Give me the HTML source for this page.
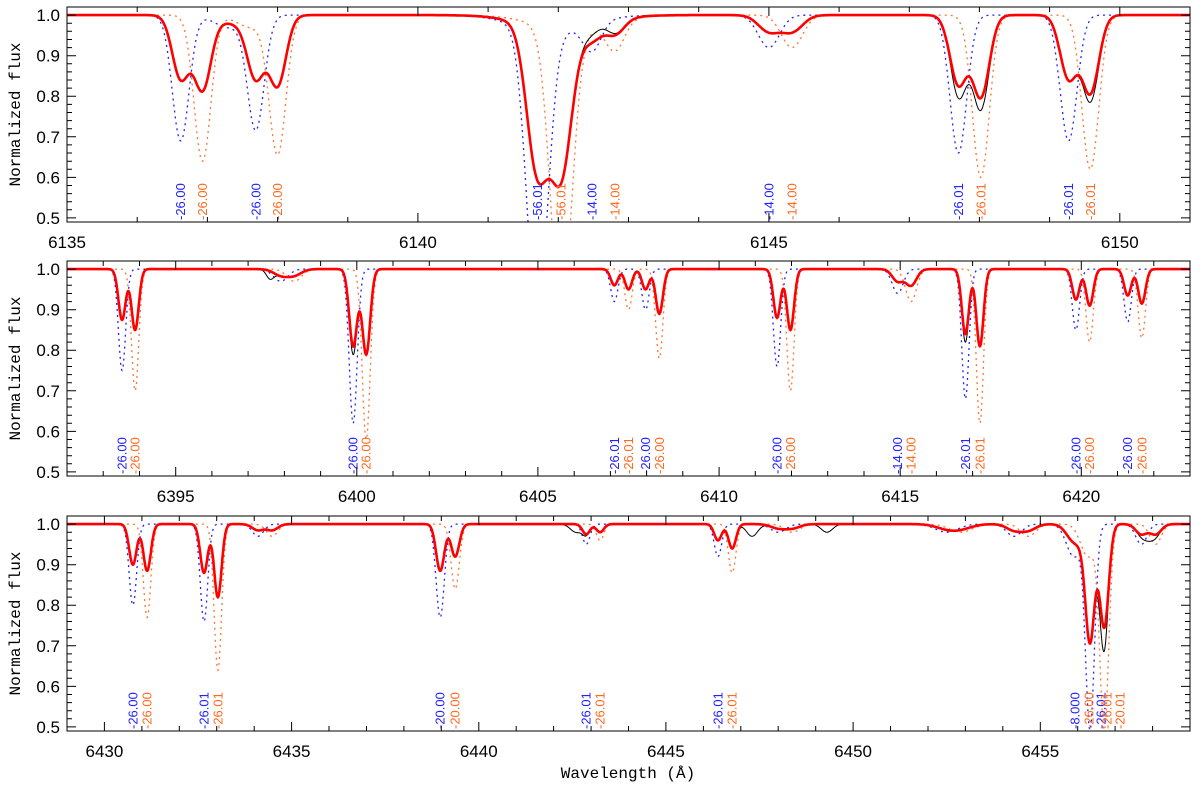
<!DOCTYPE html>
<html><head><meta charset="utf-8"><style>
html,body{margin:0;padding:0;background:#fff;}
svg{display:block;}
text{font-family:"Liberation Sans",sans-serif;}
</style></head><body>
<svg id="chart" width="1200" height="785" viewBox="0 0 1200 785"></svg>
<script>
// ---- data ----
const p1Range = [6135, 6151];
const p2Range = [6392, 6423];
const p3Range = [6429, 6459];
const p1Ticks = [6135, 6140, 6145, 6150];
const p2Ticks = [6395, 6400, 6405, 6410, 6415, 6420];
const p3Ticks = [6430, 6435, 6440, 6445, 6450, 6455];
const yTicks = [0.5, 0.6, 0.7, 0.8, 0.9, 1.0];
// lines: [center, depth, sigma]
const p1Blue = [[6136.62,0.31,0.12],[6137.3,0.03,0.2],[6137.69,0.28,0.12],[6141.70,0.7,0.15],[6141.9,0.04,0.5],[6142.48,0.07,0.13],[6145.0,0.08,0.15],[6147.7,0.34,0.12],[6149.27,0.31,0.12]];
const p1Orange = [[6136.93,0.36,0.12],[6137.62,0.03,0.2],[6138.0,0.34,0.12],[6142.04,0.7,0.15],[6142.2,0.04,0.5],[6142.81,0.07,0.13],[6145.33,0.08,0.15],[6148.02,0.40,0.12],[6149.58,0.38,0.12]];
const p1Obs = [[6147.72,0.03,0.1],[6148.02,0.03,0.1],[6149.6,0.02,0.1],[6142.55,-0.02,0.15]];
const p2Blue = [[6393.52,0.25,0.1],[6397.9,0.03,0.2],[6399.9,0.38,0.11],[6407.11,0.08,0.1],[6407.97,0.1,0.1],[6411.6,0.24,0.1],[6414.93,0.06,0.15],[6416.8,0.32,0.1],[6419.85,0.15,0.1],[6421.28,0.13,0.1]];
const p2Orange = [[6393.88,0.30,0.1],[6398.27,0.03,0.2],[6400.26,0.42,0.11],[6407.5,0.1,0.1],[6408.35,0.22,0.1],[6411.97,0.30,0.1],[6415.3,0.08,0.15],[6417.2,0.38,0.1],[6420.23,0.18,0.1],[6421.67,0.17,0.1]];
const p2Obs = [[6399.9,0.02,0.1],[6416.8,0.02,0.1],[6397.6,0.02,0.1]];
const p3Blue = [[6430.76,0.20,0.1],[6432.66,0.24,0.1],[6434.1,0.03,0.15],[6438.97,0.23,0.11],[6442.87,0.05,0.1],[6446.39,0.08,0.1],[6448.0,0.02,0.2],[6452.5,0.02,0.3],[6454.3,0.03,0.2],[6455.9,0.08,0.2],[6456.33,0.5,0.12],[6457.7,0.05,0.15]];
const p3Orange = [[6431.14,0.23,0.1],[6433.03,0.36,0.1],[6434.48,0.03,0.15],[6439.37,0.16,0.11],[6443.24,0.04,0.1],[6446.77,0.12,0.1],[6448.38,0.02,0.2],[6452.88,0.02,0.3],[6454.68,0.03,0.2],[6456.28,0.08,0.2],[6456.71,0.5,0.12],[6458.08,0.05,0.15]];
const p3Obs = [[6456.68,0.06,0.1],[6447.3,0.03,0.15],[6449.3,0.02,0.15],[6457.9,0.02,0.15],[6442.6,0.02,0.15]];
// labels: [wavelength, text, component]
const p1Labels = [[6136.62,'26.00','b'],[6136.93,'26.00','o'],[6137.69,'26.00','b'],[6138.0,'26.00','o'],[6141.70,'56.01','b'],[6142.04,'56.01','o'],[6142.48,'14.00','b'],[6142.81,'14.00','o'],[6145.0,'14.00','b'],[6145.33,'14.00','o'],[6147.7,'26.01','b'],[6148.02,'26.01','o'],[6149.27,'26.01','b'],[6149.58,'26.01','o']];
const p2Labels = [[6393.52,'26.00','b'],[6393.88,'26.00','o'],[6399.9,'26.00','b'],[6400.26,'26.00','o'],[6407.11,'26.01','b'],[6407.5,'26.01','o'],[6407.97,'26.00','b'],[6408.35,'26.00','o'],[6411.6,'26.00','b'],[6411.97,'26.00','o'],[6414.93,'14.00','b'],[6415.3,'14.00','o'],[6416.8,'26.01','b'],[6417.2,'26.01','o'],[6419.85,'26.00','b'],[6420.23,'26.00','o'],[6421.28,'26.00','b'],[6421.67,'26.00','o']];
const p3Labels = [[6430.76,'26.00','b'],[6431.14,'26.00','o'],[6432.66,'26.01','b'],[6433.03,'26.01','o'],[6438.97,'20.00','b'],[6439.37,'20.00','o'],[6442.87,'26.01','b'],[6443.24,'26.01','o'],[6446.39,'26.01','b'],[6446.77,'26.01','o'],[6455.93,'8.000','b'],[6456.3,'26.00','o'],[6456.62,'26.01','b'],[6456.78,'26.01','o'],[6457.13,'20.01','o']];

const NS = 'http://www.w3.org/2000/svg';
const svg = document.getElementById('chart');
const L = 67, R = 1190, H = 215, YMIN = 0.49, YMAX = 1.02;
const panels = [
  {top:7, range:p1Range, ticks:p1Ticks, blue:p1Blue, orange:p1Orange, obs:p1Obs, labels:p1Labels},
  {top:261, range:p2Range, ticks:p2Ticks, blue:p2Blue, orange:p2Orange, obs:p2Obs, labels:p2Labels},
  {top:516, range:p3Range, ticks:p3Ticks, blue:p3Blue, orange:p3Orange, obs:p3Obs, labels:p3Labels}
];
function mk(tag, attrs, parent){const e=document.createElementNS(NS,tag);for(const k in attrs)e.setAttribute(k,attrs[k]);(parent||svg).appendChild(e);return e;}
function prof(l, lines){let f=1;for(const [c,d,s] of lines)f-=d*Math.exp(-0.5*((l-c)/s)**2);return f;}

panels.forEach((p, i) => {
  const B = p.top + H;
  const xs = l => L + (l - p.range[0]) / (p.range[1] - p.range[0]) * (R - L);
  const ys = v => p.top + (YMAX - v) / (YMAX - YMIN) * H;
  const g = mk('g', {});
  
  
  const cp = mk('clipPath', {id: 'cp' + i}, g);
  mk('rect', {x: L, y: p.top, width: R - L, height: H}, cp);
  const plot = mk('g', {'clip-path': 'url(#cp' + i + ')'}, g);
  const step = 0.01;
  let db = '', dor = '', dr = '', dk = '';
  for (let l = p.range[0]; l <= p.range[1] + 1e-9; l += step) {
    const b = prof(l, p.blue), o = prof(l, p.orange);
    const r = 1 - 0.5 * (1 - b) - 0.5 * (1 - o);
    const k = r - (1 - prof(l, p.obs));
    const c = (db === '' ? 'M' : 'L');
    const X = xs(l).toFixed(1);
    db += c + X + ',' + ys(b).toFixed(1);
    dor += c + X + ',' + ys(o).toFixed(1);
    dr += c + X + ',' + ys(r).toFixed(1);
    dk += c + X + ',' + ys(k).toFixed(1);
  }
  const pb = mk('path', {d: db, fill: 'none', stroke: '#2222ff', 'stroke-width': 1.3, 'stroke-dasharray': '2 4'}, plot);
  
  
  const po = mk('path', {d: dor, fill: 'none', stroke: '#ff7430', 'stroke-width': 1.3, 'stroke-dasharray': '2 4'}, plot);
  
  
  const pk = mk('path', {d: dk, fill: 'none', stroke: '#000', 'stroke-width': 1}, plot);
  
  
  const pr = mk('path', {d: dr, fill: 'none', stroke: '#ff0000', 'stroke-width': 2.6}, plot);
  
  
  p.labels.forEach(([w, t, c]) => {
    const x = xs(w);
    const tx = mk('text', {x: 0, y: 0, transform: 'translate(' + (x + 4.5).toFixed(1) + ',' + (B - 2) + ') rotate(-90)', 'font-size': 13, fill: c === 'b' ? '#2222ff' : '#ff6a20'}, g);
    tx.textContent = '-' + t;
    
    
  });
  const fr = mk('rect', {x: L, y: p.top, width: R - L, height: H, fill: 'none', stroke: '#000', 'stroke-width': 1}, g);
  
  
  let tk = '';
  for (let l = Math.ceil(p.range[0]); l <= p.range[1]; l++) {
    const x = xs(l).toFixed(1), major = (l % 5 === 0), len = major ? 9 : 5;
    tk += 'M' + x + ',' + B + 'v' + (-len) + 'M' + x + ',' + p.top + 'v' + len;
  }
  for (let v = 0.5; v <= 1.0001; v += 0.02) {
    const y = ys(v).toFixed(1), major = Math.abs(v * 10 - Math.round(v * 10)) < 1e-6, len = major ? 9 : 5;
    tk += 'M' + L + ',' + y + 'h' + len + 'M' + R + ',' + y + 'h' + (-len);
  }
  const tp = mk('path', {d: tk, stroke: '#000', 'stroke-width': 1, fill: 'none'}, g);
  
  
  p.ticks.forEach(t => {
    const tx = mk('text', {x: xs(t), y: B + 26, 'text-anchor': 'middle', 'font-size': 17, fill: '#000'}, g);
    tx.textContent = t;
    
    
  });
  yTicks.forEach(v => {
    const tx = mk('text', {x: 60, y: ys(v) + 6, 'text-anchor': 'end', 'font-size': 17, fill: '#000'}, g);
    tx.textContent = v.toFixed(1);
    
    
  });
  const yt = mk('text', {x: 0, y: 0, transform: 'translate(20,' + (p.top + H / 2) + ') rotate(-90)', 'text-anchor': 'middle', 'font-size': 16, fill: '#000', style: 'font-family:"Liberation Mono",monospace'}, g);
  yt.textContent = 'Normalized flux';
  
  
});
const xt = mk('text', {x: 628, y: 778, 'text-anchor': 'middle', 'font-size': 16, fill: '#000', style: 'font-family:"Liberation Mono",monospace'});
xt.textContent = 'Wavelength (Å)';


</script>
</body></html>
